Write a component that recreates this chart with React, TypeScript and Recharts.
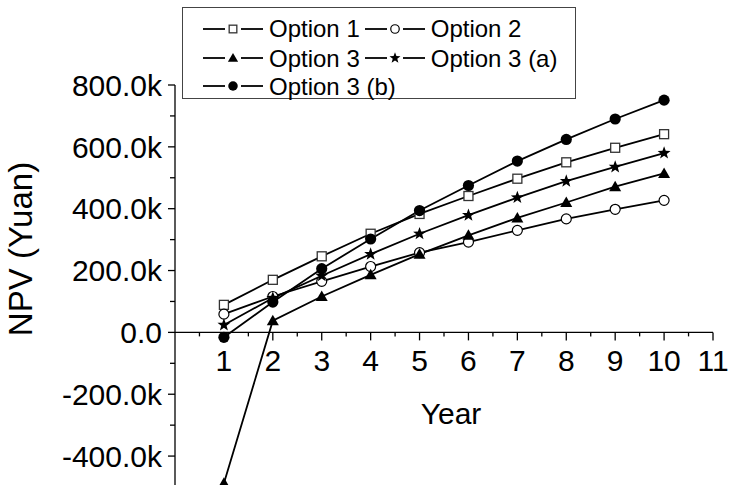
import { LineChart, Line, XAxis, YAxis, ReferenceLine } from 'recharts'

const FONT = '"Liberation Sans", Arial, Helvetica, sans-serif'

// NPV per year, in yuan
const years = [1, 2, 3, 4, 5, 6, 7, 8, 9, 10]
const option1 = [89000, 170000, 246000, 319000, 383000, 441000, 497000, 550000, 597000, 641000]
const option2 = [59000, 116000, 165000, 213000, 258000, 292000, 330000, 367000, 398000, 427000]
const option3 = [-488000, 38000, 116000, 186000, 253000, 314000, 370000, 420000, 471000, 514000]
const option3a = [24000, 111000, 183000, 253000, 319000, 379000, 436000, 489000, 535000, 580000]
const option3b = [-16000, 98000, 206000, 302000, 394000, 475000, 554000, 624000, 690000, 751000]

const xTicks = [0, 0.5, 1, 1.5, 2, 2.5, 3, 3.5, 4, 4.5, 5, 5.5, 6, 6.5, 7, 7.5, 8, 8.5, 9, 9.5, 10, 10.5, 11]
const yTicks = [-500000, -400000, -300000, -200000, -100000, 0, 100000, 200000, 300000, 400000, 500000, 600000, 700000, 800000]

const Y_MIN = -500000
const Y_MAX = 800000
const W = 731
const TOP = 85
const XH = 4 // x axis band height (kept tiny, the axis is drawn at y = 0)
const H = 487 + XH
const PLOT_H = H - TOP - XH
// the x axis sits at y = 0, not at the bottom of the plot
const ZERO_SHIFT = (PLOT_H * (0 - Y_MIN)) / (Y_MAX - Y_MIN)

const data = years.map((year, i) => ({
  year,
  o1: option1[i],
  o2: option2[i],
  o3: option3[i],
  o3a: option3a[i],
  o3b: option3b[i],
}))

function starPath(cx: number, cy: number, R: number, r: number) {
  let d = ''
  for (let i = 0; i < 10; i++) {
    const rad = i % 2 === 0 ? R : r
    const a = -Math.PI / 2 + (i * Math.PI) / 5
    d += (i === 0 ? 'M' : 'L') + (cx + rad * Math.cos(a)).toFixed(2) + ',' + (cy + rad * Math.sin(a)).toFixed(2)
  }
  return d + 'Z'
}

function Marker({ kind, cx, cy, s = 1 }: { kind: string; cx: number; cy: number; s?: number }) {
  if (kind === 'square')
    return <rect x={cx - 4.5 * s} y={cy - 4.5 * s} width={9 * s} height={9 * s} fill="#fff" stroke="#333" strokeWidth={1.3} />
  if (kind === 'circle') return <circle cx={cx} cy={cy} r={5 * s} fill="#fff" stroke="#000" strokeWidth={1.2} />
  if (kind === 'triangle')
    return <path d={`M${cx},${cy - 6 * s}L${cx + 6 * s},${cy + 4.5 * s}L${cx - 6 * s},${cy + 4.5 * s}Z`} fill="#000" />
  if (kind === 'star') return <path d={starPath(cx, cy, 6.8 * s, 2.8 * s)} fill="#000" />
  return <circle cx={cx} cy={cy} r={5.6 * s} fill="#000" />
}

const dotOf = (kind: string) => (p: any) =>
  p.cx == null ? <g key={p.key} /> : <Marker key={p.key} kind={kind} cx={p.cx} cy={p.cy} />

function XTick({ x, y, payload }: any) {
  const v = payload.value
  if (v === 0) return <g />
  const y0 = y - ZERO_SHIFT
  const major = Number.isInteger(v)
  return (
    <g>
      <line x1={x} x2={x} y1={y0} y2={y0 + (major ? 8 : 4)} stroke="#000" strokeWidth={1.3} />
      {major && (
        <text x={x} y={y0 + 39} textAnchor="middle" fontSize={30} fontFamily={FONT} fill="#000">
          {v}
        </text>
      )}
    </g>
  )
}

function YTick({ x, y, payload }: any) {
  const v = payload.value
  const major = v % 200000 === 0
  const label = v === 0 ? '0.0' : `${(v / 1000).toFixed(1)}k`
  return (
    <g>
      <line x1={x - (major ? 7 : 5)} x2={x} y1={y} y2={y} stroke="#000" strokeWidth={1.3} />
      {major && (
        <text x={x - 13} y={y + 10.7} textAnchor="end" fontSize={30} fontFamily={FONT} fill="#000">
          {label}
        </text>
      )}
    </g>
  )
}

const legendRows = [
  [
    { kind: 'square', name: 'Option 1' },
    { kind: 'circle', name: 'Option 2' },
  ],
  [
    { kind: 'triangle', name: 'Option 3' },
    { kind: 'star', name: 'Option 3 (a)' },
  ],
  [{ kind: 'filled', name: 'Option 3 (b)' }],
]

function LegendBox() {
  return (
    <div
      style={{
        position: 'absolute',
        left: 182,
        top: 7,
        width: 394,
        height: 92,
        boxSizing: 'border-box',
        border: '1px solid #444',
        background: '#fff',
        paddingTop: 5,
        paddingLeft: 20,
        fontFamily: FONT,
        fontSize: 24,
        color: '#000',
      }}
    >
      {legendRows.map((row, ri) => (
        <div key={ri} style={{ display: 'flex', height: ri === 0 ? 31 : 28, lineHeight: '29px', gap: 5 }}>
          {row.map((it) => (
            <div key={it.name} style={{ display: 'flex', alignItems: 'center', gap: 6 }}>
              <svg width={60} height={20} style={{ display: 'block' }}>
                <line x1={0} x2={22} y1={10} y2={10} stroke="#000" strokeWidth={1.8} />
                <line x1={38} x2={60} y1={10} y2={10} stroke="#000" strokeWidth={1.8} />
                <Marker kind={it.kind} cx={30} cy={10} s={0.85} />
              </svg>
              <span>{it.name}</span>
            </div>
          ))}
        </div>
      ))}
    </div>
  )
}

const lineProps = { type: 'linear' as const, stroke: '#000', strokeWidth: 1.8, isAnimationActive: false, activeDot: false }

export default function App() {
  return (
    <div style={{ position: 'absolute', left: 0, top: 0, width: W, height: 485, overflow: 'hidden', background: '#fff' }}>
      <LineChart width={W} height={H} data={data} margin={{ top: TOP, right: 18, left: 0, bottom: 0 }}>
        <XAxis
          dataKey="year"
          type="number"
          domain={[0, 11]}
          ticks={xTicks}
          interval={0}
          height={XH}
          tickSize={0}
          tickMargin={0}
          axisLine={false}
          tickLine={false}
          tick={<XTick />}
          label={{
            content: ({ viewBox }: any) => (
              <text x={viewBox.x + 276} y={viewBox.y - ZERO_SHIFT + 92} textAnchor="middle" fontSize={30} fontFamily={FONT} fill="#000">
                Year
              </text>
            ),
          }}
        />
        <YAxis
          type="number"
          domain={[Y_MIN, Y_MAX]}
          ticks={yTicks}
          interval={0}
          width={175}
          tickSize={0}
          tickMargin={0}
          axisLine={{ stroke: '#000', strokeWidth: 1.3 }}
          tickLine={false}
          tick={<YTick />}
          label={{
            content: () => (
              <text transform="translate(32,249) rotate(-90)" textAnchor="middle" fontSize={33} fontFamily={FONT} fill="#000">
                NPV (Yuan)
              </text>
            ),
          }}
        />
        <ReferenceLine y={0} stroke="#000" strokeWidth={1.3} />
        <Line dataKey="o1" {...lineProps} dot={dotOf('square')} />
        <Line dataKey="o2" {...lineProps} dot={dotOf('circle')} />
        <Line dataKey="o3" {...lineProps} dot={dotOf('triangle')} />
        <Line dataKey="o3a" {...lineProps} dot={dotOf('star')} />
        <Line dataKey="o3b" {...lineProps} dot={dotOf('filled')} />
      </LineChart>
      <LegendBox />
    </div>
  )
}
